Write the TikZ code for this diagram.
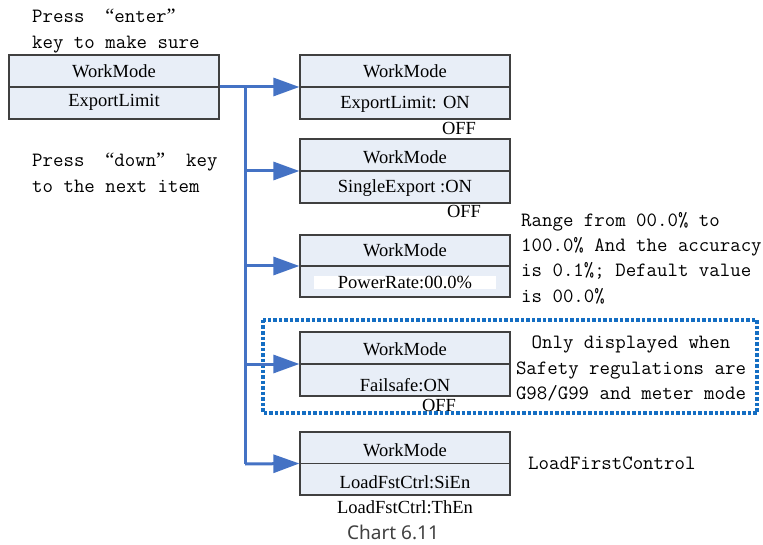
\documentclass[tikz,border=0pt]{standalone}
\usepackage{fontspec}
\setmainfont{Liberation Serif}
\setmonofont{Latin Modern Mono}
\newfontfamily\chartfont{Noto Sans}
\usetikzlibrary{arrows.meta}
\definecolor{boxfill}{RGB}{232,238,247}
\definecolor{boxline}{RGB}{64,64,64}
\definecolor{arrowblue}{RGB}{68,114,196}
\definecolor{dotblue}{RGB}{20,110,195}
\newcommand{\myLQ}{{\rmfamily “}}
\newcommand{\myRQ}{{\rmfamily ”}}
\tikzset{
  menubox/.style={draw=boxline, line width=1.2pt, fill=boxfill, minimum width=210pt, minimum height=64pt, inner sep=0pt},
  boxtext/.style={font=\fontsize{18.5}{20}\selectfont, inner sep=0pt, anchor=center},
  note/.style={font=\ttfamily\fontsize{20.3}{25.3}\selectfont, inner sep=0pt, align=left, anchor=north west},
  conn/.style={draw=arrowblue, line width=3pt},
  tip/.style={-{Triangle[length=26pt,width=18pt]}},
}
\begin{document}
\begin{tikzpicture}[x=1pt,y=-1pt]
\useasboundingbox (0,0) rectangle (763,545);
% boxes
\node[menubox] (b0) at (114,87) {};
\node[menubox] (b1) at (405,87) {};
\node[menubox] (b2) at (405,171) {};
\node[menubox, minimum height=62pt] (b3) at (405,266) {};
\node[menubox] (b4) at (405,364) {};
\node[menubox, minimum height=63pt] (b5) at (405,463.5) {};
\foreach \b in {b0,b1,b2,b3,b4,b5}{
  \draw[boxline, line width=1.2pt] (\b.west) -- (\b.east);
}
% box texts
\node[boxtext] (t0a) at (114,71) {WorkMode};
\node[boxtext] (t0b) at (114,102) {ExportLimit};
\node[boxtext] (t1a) at (405,71) {WorkMode};
\node[boxtext] (t1b) at (405,104) {ExportLimit: ON};
\node[boxtext] (t1c) at (459,128) {OFF};
\node[boxtext] (t2a) at (405,157) {WorkMode};
\node[boxtext] (t2b) at (405,188) {SingleExport :ON};
\node[boxtext] (t2c) at (464,211) {OFF};
\node[boxtext] (t3a) at (405,250) {WorkMode};
\fill[white] (314,276) rectangle (496,289);
\node[boxtext] (t3b) at (405,282) {PowerRate:00.0\%};
\node[boxtext] (t4a) at (405,349) {WorkMode};
\node[boxtext] (t4b) at (405,385) {Failsafe:ON};
\node[boxtext] (t4c) at (439,405) {OFF};
\node[boxtext] (t5a) at (405,450) {WorkMode};
\node[boxtext] (t5b) at (405,482) {LoadFstCtrl:SiEn};
\node[boxtext] (t5c) at (405,507) {LoadFstCtrl:ThEn};
% notes
\node[note] (n1) at (32,9) {Press~~\myLQ enter\myRQ\\key to make sure};
\node[note] (n2) at (32,153) {Press~~\myLQ down\myRQ~~key\\to the next item};
\node[note] (n3) at (521,212) {Range from 00.0\% to\\100.0\% And the accuracy\\is 0.1\%; Default value\\is 00.0\%};
\node[note, align=center, anchor=north] (n4) at (631,336) {Only displayed when\\Safety regulations are\\G98/G99 and meter mode};
\node[note, anchor=west] (n5) at (528,463) {LoadFirstControl};
% dotted frame
\draw[draw=dotblue, line width=3.3pt, dash pattern=on 3.5pt off 2pt] (263,320) rectangle (757,413);
% connectors
\coordinate (trunk) at (245,87);
\coordinate (trunkend) at (245,464);
\draw[conn, tip] (b0.east) -- (b1.west);
\draw[conn] (trunk) -- (trunkend);
\draw[conn, tip] (trunk |- b2.west) -- (b2.west);
\draw[conn, tip] (trunk |- b3.west) -- (b3.west);
\draw[conn, tip] (trunk |- b4.west) -- (b4.west);
\draw[conn, tip] (trunkend) -- (b5.west);
% caption
\node[font=\chartfont\fontsize{19}{21}\selectfont, text=boxline, inner sep=0pt] (cap) at (393,532) {Chart 6.11};
\end{tikzpicture}
\end{document}
